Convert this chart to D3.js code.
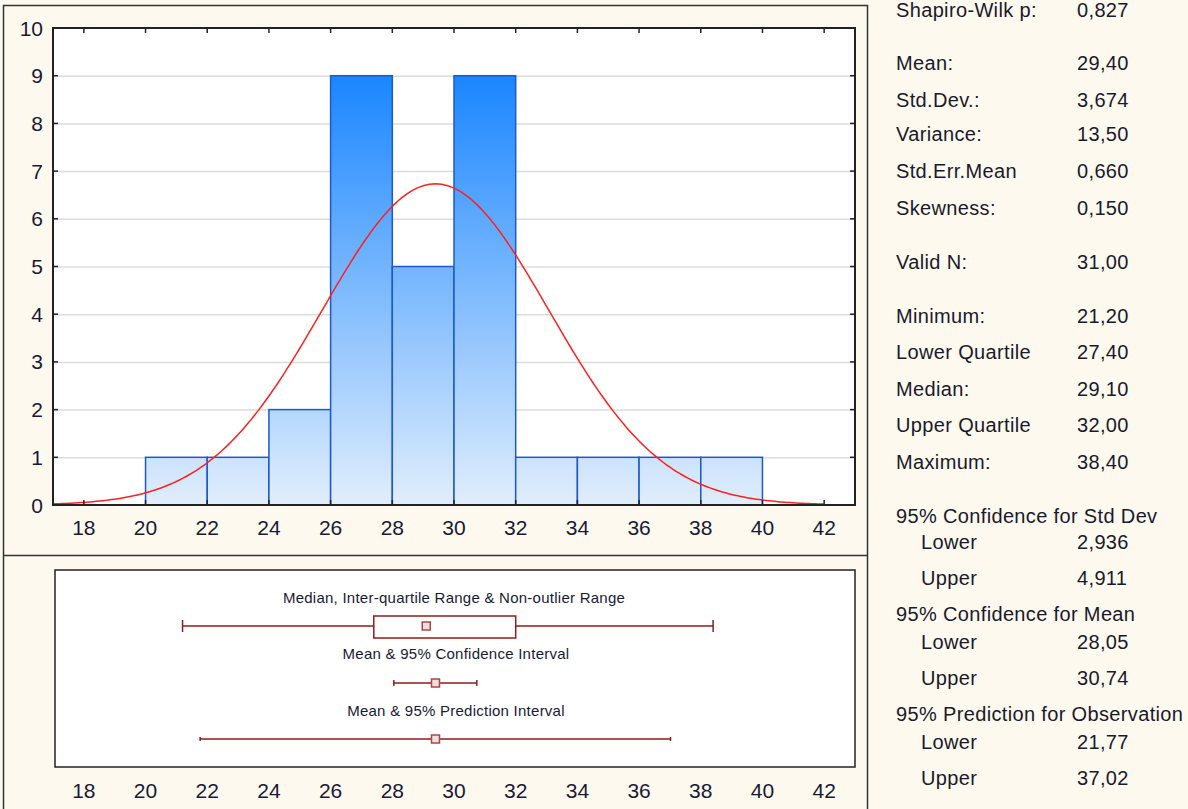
<!DOCTYPE html>
<html>
<head>
<meta charset="utf-8">
<script src="https://cdn.jsdelivr.net/npm/d3@7"></script>
<style>
  body { margin: 0; background: #fdf9ef; }
  svg { display: block; font-family: "Liberation Sans", Arial, sans-serif; }
</style>
</head>
<body>
<div class="canvas"></div>
<script>
// histogram data
const binStarts = [20, 22, 24, 26, 28, 30, 32, 34, 36, 38]
const counts = [1, 1, 2, 9, 5, 9, 1, 1, 1, 1]
const binWidth = 2
const xTicks = [18, 20, 22, 24, 26, 28, 30, 32, 34, 36, 38, 40, 42]
const yTicks = [0, 1, 2, 3, 4, 5, 6, 7, 8, 9, 10]

// summary numbers
const mean = 29.40, sd = 3.674, n = 31
const boxStats = { min: 21.2, q1: 27.4, median: 29.1, q3: 32.0, max: 38.4 }
const ciMean = [28.05, 30.74]
const predInt = [21.77, 37.02]

// right-hand stats table
const statLabels = ['Shapiro-Wilk p:', 'Mean:', 'Std.Dev.:', 'Variance:', 'Std.Err.Mean', 'Skewness:',
  'Valid N:', 'Minimum:', 'Lower Quartile', 'Median:', 'Upper Quartile', 'Maximum:',
  '95% Confidence for Std Dev', 'Lower', 'Upper', '95% Confidence for Mean', 'Lower', 'Upper',
  '95% Prediction for Observation', 'Lower', 'Upper']
const statValues = ['0,827', '29,40', '3,674', '13,50', '0,660', '0,150',
  '31,00', '21,20', '27,40', '29,10', '32,00', '38,40',
  '', '2,936', '4,911', '', '28,05', '30,74', '', '21,77', '37,02']
const statRowY = [10, 63, 100, 134, 171, 208, 262, 316, 352, 389, 425, 462, 516, 542, 578, 614, 642, 678, 714, 742, 778]
const statIndent = [0,0,0,0,0,0,0,0,0,0,0,0,0,1,1,0,1,1,0,1,1]

const W = 1188, H = 809
const plot = { left: 53, right: 855, top: 28, bottom: 505 }
const box = { left: 55, right: 855, top: 570, bottom: 767 }

const svg = d3.select('.canvas')
  .append('svg')
  .attr('width', W)
  .attr('height', H)

const x = d3.scaleLinear().domain([17, 43]).range([plot.left, plot.right])
const y = d3.scaleLinear().domain([0, 10]).range([plot.bottom, plot.top])

// panel frames
const frame = svg.append('g').attr('stroke', '#333').attr('fill', 'none').attr('stroke-width', 1.5)
frame.append('path').attr('d', `M3.5,${H} V5.5 H867.5 V${H}`)
frame.append('line').attr('x1', 3.5).attr('x2', 867.5).attr('y1', 555.5).attr('y2', 555.5)

// plot background
svg.append('rect')
  .attr('x', plot.left).attr('y', plot.top)
  .attr('width', plot.right - plot.left).attr('height', plot.bottom - plot.top)
  .attr('fill', '#fff')

// gradient over the whole value range
const grad = svg.append('defs').append('linearGradient')
  .attr('id', 'barGrad')
  .attr('gradientUnits', 'userSpaceOnUse')
  .attr('x1', 0).attr('x2', 0).attr('y1', y(0)).attr('y2', y(9))
grad.append('stop').attr('offset', 0).attr('stop-color', '#e1eefc')
grad.append('stop').attr('offset', 1).attr('stop-color', '#1a86ff')

// gridlines
svg.append('g').selectAll('line')
  .data(yTicks.slice(1, -1))
  .join('line')
    .attr('x1', plot.left).attr('x2', plot.right)
    .attr('y1', d => y(d) + 0.5).attr('y2', d => y(d) + 0.5)
    .attr('stroke', '#dcdcdc').attr('stroke-width', 1.5)

// bars
svg.append('g').selectAll('rect')
  .data(binStarts)
  .join('rect')
    .attr('x', d => x(d))
    .attr('y', (d, i) => y(counts[i]))
    .attr('width', d => x(d + binWidth) - x(d))
    .attr('height', (d, i) => y(0) - y(counts[i]))
    .attr('fill', 'url(#barGrad)')
    .attr('stroke', '#1c58d0')
    .attr('stroke-width', 1.5)

// expected normal curve
const pdf = v => Math.exp(-0.5 * ((v - mean) / sd) ** 2) / (sd * Math.sqrt(2 * Math.PI))
const curveX = d3.range(17, 42.001, 0.1)
svg.append('path')
  .datum(curveX)
  .attr('fill', 'none')
  .attr('stroke', '#ff2020')
  .attr('stroke-width', 1.5)
  .attr('d', d3.line().x(d => x(d)).y(d => y(n * binWidth * pdf(d))))

// plot frame
svg.append('rect')
  .attr('x', plot.left).attr('y', plot.top)
  .attr('width', plot.right - plot.left).attr('height', plot.bottom - plot.top)
  .attr('fill', 'none').attr('stroke', '#222').attr('stroke-width', 2)

// inward ticks on all four sides
const axisText = '#1a1a33'
const tickG = svg.append('g').attr('stroke', '#222').attr('stroke-width', 1.5)
tickG.selectAll('.tb').data(xTicks).join('line').attr('class', 'tb')
  .attr('x1', d => x(d)).attr('x2', d => x(d)).attr('y1', plot.bottom).attr('y2', plot.bottom - 5)
tickG.selectAll('.tt').data(xTicks).join('line').attr('class', 'tt')
  .attr('x1', d => x(d)).attr('x2', d => x(d)).attr('y1', plot.top).attr('y2', plot.top + 5)
tickG.selectAll('.tl').data(yTicks).join('line').attr('class', 'tl')
  .attr('x1', plot.left).attr('x2', plot.left + 5).attr('y1', d => y(d)).attr('y2', d => y(d))
tickG.selectAll('.tr').data(yTicks).join('line').attr('class', 'tr')
  .attr('x1', plot.right).attr('x2', plot.right - 5).attr('y1', d => y(d)).attr('y2', d => y(d))

svg.append('g').selectAll('text')
  .data(yTicks)
  .join('text')
    .attr('x', 43).attr('y', d => y(d))
    .attr('dy', '0.36em')
    .attr('text-anchor', 'end')
    .attr('font-size', 21)
    .attr('fill', axisText)
    .text(d => d)

svg.append('g').selectAll('text')
  .data(xTicks)
  .join('text')
    .attr('x', d => x(d)).attr('y', 527)
    .attr('dy', '0.36em')
    .attr('text-anchor', 'middle')
    .attr('font-size', 21)
    .attr('fill', axisText)
    .text(d => d)

// ---- lower panel: box plot and intervals
svg.append('rect')
  .attr('x', box.left).attr('y', box.top)
  .attr('width', box.right - box.left).attr('height', box.bottom - box.top)
  .attr('fill', '#fff').attr('stroke', '#222').attr('stroke-width', 1.5)

svg.append('g').selectAll('text')
  .data(xTicks)
  .join('text')
    .attr('x', d => x(d)).attr('y', 790)
    .attr('dy', '0.36em')
    .attr('text-anchor', 'middle')
    .attr('font-size', 21)
    .attr('fill', axisText)
    .text(d => d)

const red = '#8e1c1c'
const bx = svg.append('g').attr('stroke', red).attr('stroke-width', 1.5).attr('fill', 'none')
const capped = (lo, hi, yy, cap) => {
  bx.append('line').attr('x1', x(lo)).attr('x2', x(hi)).attr('y1', yy).attr('y2', yy)
  bx.append('line').attr('x1', x(lo)).attr('x2', x(lo)).attr('y1', yy - cap).attr('y2', yy + cap)
  bx.append('line').attr('x1', x(hi)).attr('x2', x(hi)).attr('y1', yy - cap).attr('y2', yy + cap)
}
const marker = (v, yy) => {
  svg.append('rect')
    .attr('x', x(v) - 4).attr('y', yy - 4).attr('width', 8).attr('height', 8)
    .attr('fill', '#f3dede').attr('stroke', '#a84848').attr('stroke-width', 1.5)
}

capped(boxStats.min, boxStats.max, 626, 6)
bx.append('rect')
  .attr('x', x(boxStats.q1)).attr('y', 616)
  .attr('width', x(boxStats.q3) - x(boxStats.q1)).attr('height', 22)
  .attr('fill', '#fff')
marker(boxStats.median, 626)

capped(ciMean[0], ciMean[1], 683, 3)
marker(mean, 683)

capped(predInt[0], predInt[1], 739, 2)
marker(mean, 739)

const boxLabels = ['Median, Inter-quartile Range & Non-outlier Range', 'Mean & 95% Confidence Interval', 'Mean & 95% Prediction Interval']
const boxLabelY = [598, 654, 711]
svg.append('g').selectAll('text')
  .data(boxLabels)
  .join('text')
    .attr('x', (d, i) => i === 0 ? 454 : 456)
    .attr('y', (d, i) => boxLabelY[i])
    .attr('dy', '0.36em')
    .attr('text-anchor', 'middle')
    .attr('font-size', 15)
    .attr('letter-spacing', 0.25)
    .attr('fill', '#1a1a33')
    .text(d => d)

// ---- right panel stats
const st = svg.append('g').attr('font-size', 20).attr('letter-spacing', 0.35).attr('fill', '#1a1a2a')
st.selectAll('.lab').data(statLabels).join('text').attr('class', 'lab')
  .attr('x', (d, i) => statIndent[i] ? 921 : 896)
  .attr('y', (d, i) => statRowY[i])
  .attr('dy', '0.36em')
  .text(d => d)
st.selectAll('.val').data(statValues).join('text').attr('class', 'val')
  .attr('x', 1077)
  .attr('y', (d, i) => statRowY[i])
  .attr('dy', '0.36em')
  .text(d => d)
</script>
</body>
</html>
